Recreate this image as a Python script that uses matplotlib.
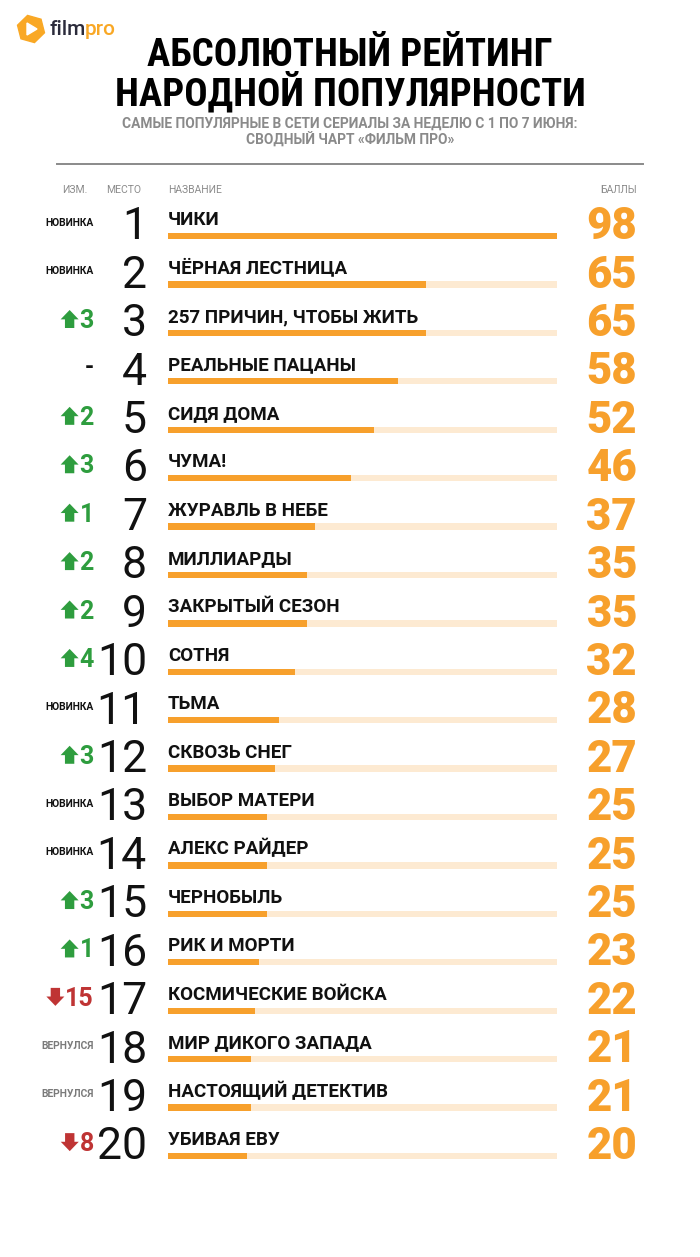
import matplotlib
matplotlib.use('Agg')
import matplotlib.pyplot as plt
from matplotlib import transforms
from matplotlib.patches import RegularPolygon, Polygon

# ---------------- data ----------------
ranks = list(range(1, 21))
names = ["ЧИКИ", "ЧЁРНАЯ ЛЕСТНИЦА", "257 ПРИЧИН, ЧТОБЫ ЖИТЬ", "РЕАЛЬНЫЕ ПАЦАНЫ",
         "СИДЯ ДОМА", "ЧУМА!", "ЖУРАВЛЬ В НЕБЕ", "МИЛЛИАРДЫ", "ЗАКРЫТЫЙ СЕЗОН",
         "СОТНЯ", "ТЬМА", "СКВОЗЬ СНЕГ", "ВЫБОР МАТЕРИ", "АЛЕКС РАЙДЕР",
         "ЧЕРНОБЫЛЬ", "РИК И МОРТИ", "КОСМИЧЕСКИЕ ВОЙСКА", "МИР ДИКОГО ЗАПАДА",
         "НАСТОЯЩИЙ ДЕТЕКТИВ", "УБИВАЯ ЕВУ"]
scores = [98, 65, 65, 58, 52, 46, 37, 35, 35, 32, 28, 27, 25, 25, 25, 23, 22, 21, 21, 20]
change_type = ["new", "new", "up", "same", "up", "up", "up", "up", "up", "up",
               "new", "up", "new", "new", "up", "up", "down", "back", "back", "down"]
change_value = [None, None, 3, None, 2, 3, 1, 2, 2, 4,
                None, 3, None, None, 3, 1, 15, None, None, 8]
header_labels = ["ИЗМ.", "МЕСТО", "НАЗВАНИЕ", "БАЛЛЫ"]
title_lines = ["АБСОЛЮТНЫЙ РЕЙТИНГ", "НАРОДНОЙ ПОПУЛЯРНОСТИ"]
subtitle_lines = ["САМЫЕ ПОПУЛЯРНЫЕ В СЕТИ СЕРИАЛЫ ЗА НЕДЕЛЮ С 1 ПО 7 ИЮНЯ:",
                  "СВОДНЫЙ ЧАРТ «ФИЛЬМ ПРО»"]

# ---------------- style ----------------
ORANGE = "#F7A02C"
TRACK = "#FDEAD2"
GREEN = "#2E9D3E"
RED = "#BF3434"
GRAY = "#8C8C8C"
COND = ['Roboto Condensed', 'Roboto', 'DejaVu Sans']
ROBOTO = ['Roboto', 'DejaVu Sans']

W, H = 700, 1257
fig = plt.figure(figsize=(7, 12.57), dpi=100)
fig.patch.set_facecolor('white')
renderer = fig.canvas.get_renderer()


def fx(px):
    return px / W


def fy(py):
    return 1 - py / H


# bar axes: x 0..max spans 168..557 px
ax = fig.add_axes([fx(168), 0, (557 - 168) / W, 1])
ax.set_xlim(0, max(scores))
y0, dy = 236, 48.42
ax.set_ylim((H - y0) / dy, -y0 / dy)
ax.axis('off')

idx = list(range(len(names)))
ax.barh(idx, [max(scores)] * len(idx), height=0.13, color=TRACK, zorder=1)
ax.barh(idx, scores, height=0.13, color=ORANGE, zorder=2)

trans = transforms.blended_transform_factory(fig.transFigure, ax.transData)


def arrow_pts(xr, yb, up, w=18.0, h=18.0):
    """arrow polygon in display pixels; xr = right edge, yb = bottom."""
    xl = xr - w
    s0, s1 = xl + w * 0.24, xl + w * 0.76
    if up:
        hb = yb + h * 0.48
        return [[s0, yb], [s1, yb], [s1, hb], [xr, hb], [xl + w / 2, yb + h],
                [xl, hb], [s0, hb]]
    ht = yb + h * 0.52
    return [[s0, yb + h], [s1, yb + h], [s1, ht], [xr, ht], [xl + w / 2, yb],
            [xl, ht], [s0, ht]]


for i in idx:
    # name
    ax.text(0, i - 0.225, names[i], ha='left', va='baseline', fontsize=13.5,
            fontweight='bold', family=ROBOTO, color='#111111')
    # rank
    ax.text(fx(147), i + 0.07, str(ranks[i]), transform=trans, ha='right',
            va='baseline', fontsize=32, fontweight='normal', family=ROBOTO,
            color='#111111')
    # separator
    ax.vlines(fx(157), i - 0.64, i + 0.08, transform=trans, color='#666666',
              lw=1.0)
    # score
    ax.text(fx(637), i + 0.065, str(scores[i]), transform=trans, ha='right',
            va='baseline', fontsize=31.5, fontweight='black', family=ROBOTO,
            color=ORANGE)
    # change
    ct = change_type[i]
    if ct == 'new':
        ax.text(fx(94), i - 0.21, "НОВИНКА", transform=trans, ha='right',
                va='baseline', fontsize=7.4, fontweight='bold', family=ROBOTO,
                color='#111111')
    elif ct == 'back':
        ax.text(fx(94), i - 0.21, "ВЕРНУЛСЯ", transform=trans, ha='right',
                va='baseline', fontsize=7.4, fontweight='bold', family=ROBOTO,
                color='#7a7a7a')
    elif ct == 'same':
        ax.text(fx(94), i - 0.15, "-", transform=trans, ha='right',
                va='baseline', fontsize=17, fontweight='bold', family=ROBOTO,
                color='#111111')
    elif ct in ('up', 'down'):
        col = GREEN if ct == 'up' else RED
        num = ax.text(fx(94), i - 0.1, str(change_value[i]), transform=trans,
                      ha='right', va='baseline', fontsize=18, fontweight='bold',
                      family=ROBOTO, color=col)
        bb = num.get_window_extent(renderer)
        base_y = trans.transform((0, i - 0.1))[1]
        pts = arrow_pts(bb.x0 - 1.0, base_y, ct == 'up')
        fig.add_artist(Polygon(pts, closed=True, facecolor=col, edgecolor='none',
                               transform=transforms.IdentityTransform()))

# header row
hdr_y = fy(190)
fig.text(fx(75), hdr_y, header_labels[0], ha='center', va='center',
         fontsize=7.5, family=ROBOTO, color=GRAY)
fig.text(fx(124), hdr_y, header_labels[1], ha='center', va='center',
         fontsize=7.5, family=ROBOTO, color=GRAY)
fig.text(fx(168), hdr_y, header_labels[2], ha='left', va='center',
         fontsize=7.5, family=ROBOTO, color=GRAY)
fig.text(fx(637), hdr_y, header_labels[3], ha='right', va='center',
         fontsize=7.5, family=ROBOTO, color=GRAY)

# rule
fig.add_artist(plt.Line2D([fx(57), fx(643)], [fy(164), fy(164)],
                          color='#8a8a8a', lw=1.4))

# titles (two lines in one text)
fig.text(0.5, fy(75.5), "\n".join(title_lines), ha='center', va='center',
         multialignment='center', linespacing=0.94,
         fontsize=28, fontweight='bold', family=COND, color='#000000')
fig.text(0.5, fy(132), "\n".join(subtitle_lines), ha='center', va='center',
         multialignment='center', linespacing=1.15,
         fontsize=9.9, fontweight='bold', family=ROBOTO, color='#8a8a8a')

# logo
logo_ax = fig.add_axes([fx(16), fy(44), 30 / W, 30 / H])
logo_ax.set_xlim(0, 30)
logo_ax.set_ylim(0, 30)
logo_ax.set_aspect('equal')
logo_ax.axis('off')
logo_ax.add_patch(RegularPolygon((15, 15), numVertices=6, radius=14,
                                 orientation=0.25, color='#F9A825'))
logo_ax.add_patch(Polygon([[11, 9], [11, 21], [21, 15]], closed=True,
                          color='white'))
t1 = fig.text(fx(49), fy(35), "film", ha='left', va='baseline', fontsize=15,
              fontweight='medium', family=ROBOTO, color='#2B2B3B')
bb = t1.get_window_extent(renderer)
fig.text(bb.x1 / W, fy(35), "pro", ha='left', va='baseline', fontsize=15,
         fontweight='medium', family=ROBOTO, color='#F9A825')

fig.savefig('out.png', dpi=100, facecolor='white')
